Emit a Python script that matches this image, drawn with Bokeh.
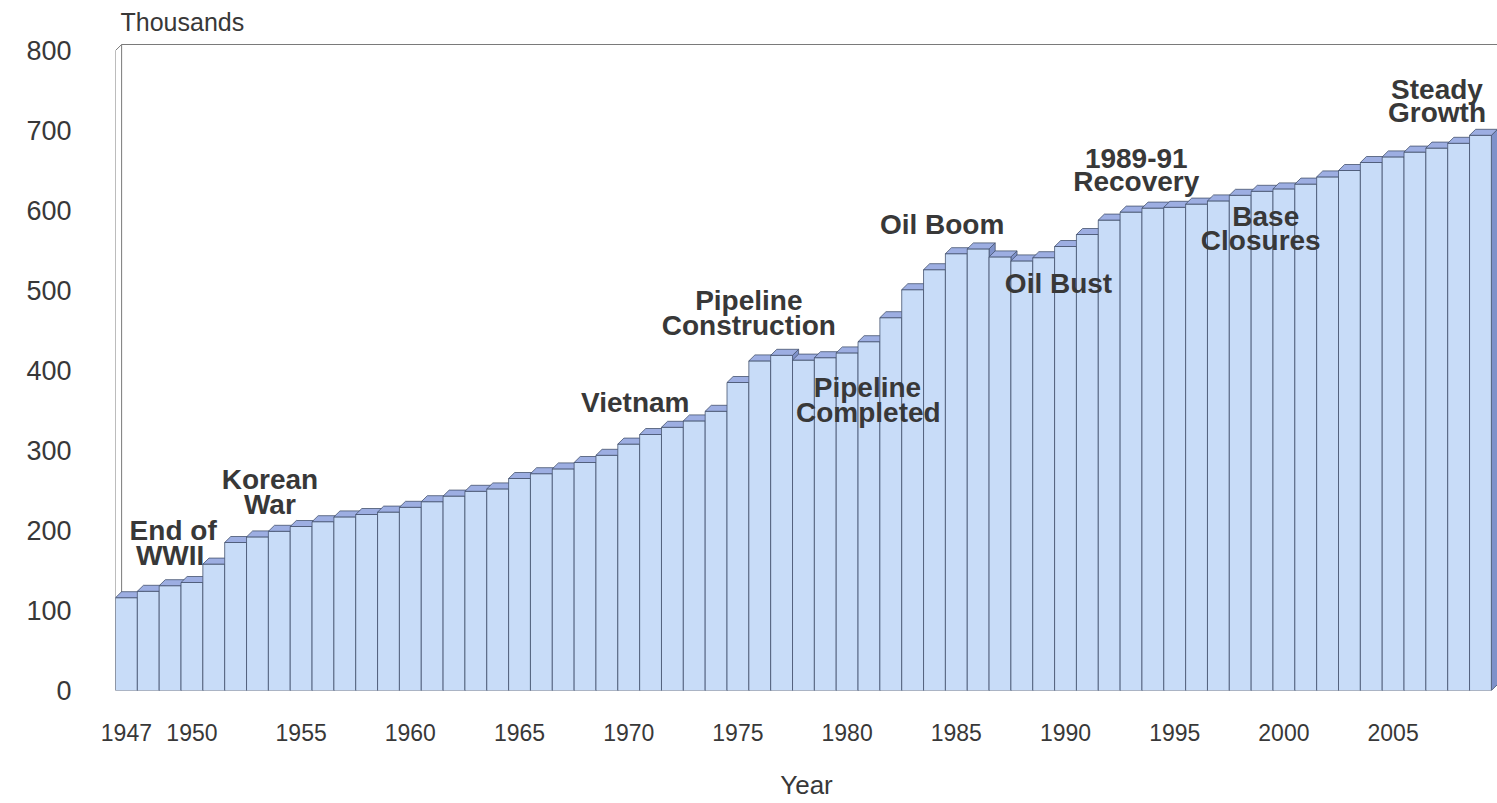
from bokeh.plotting import figure
from bokeh.models import Range1d, FixedTicker, ColumnDataSource
from bokeh.core.properties import value
from bokeh.embed import file_html
from bokeh.resources import INLINE

# ---------------- data ----------------
years = list(range(1947, 2010))
population_k = [116, 124, 131, 135, 158, 185, 192, 199, 205, 211,
                217, 220, 223, 229, 236, 243, 249, 252, 265, 271,
                277, 285, 294, 308, 320, 329, 337, 349, 385, 412,
                419, 413, 416, 422, 436, 466, 501, 526, 546, 552,
                542, 537, 541, 555, 570, 588, 598, 603, 604, 608,
                612, 619, 624, 627, 633, 642, 650, 660, 667, 673,
                678, 684, 694]
tick_years = [1947, 1950, 1955, 1960, 1965, 1970, 1975, 1980, 1985,
              1990, 1995, 2000, 2005]
y_ticks = [0, 100, 200, 300, 400, 500, 600, 700, 800]
event_labels = ["End of", "WWII", "Korean", "War", "Vietnam", "Pipeline",
                "Construction", "Pipeline", "Completed", "Oil Boom",
                "Oil Bust", "1989-91", "Recovery", "Base", "Closures",
                "Steady", "Growth"]

# ---------------- layout / style ----------------
event_x = [1949.14, 1949.0, 1953.57, 1953.57, 1970.30, 1975.50, 1975.50,
           1980.93, 1980.97, 1984.35, 1989.68, 1993.24, 1993.24, 1999.17,
           1998.94, 2007.01, 2007.01]
event_y = [200, 168.75, 263.75, 232.5, 360, 487.5, 456.25, 378.75, 347.5,
           582.5, 508.75, 665, 636.25, 592.5, 562.5, 751.25, 722.5]

DX, DY = 0.28, 7.5          # oblique depth of the 3-D bars
HALF = 0.5
FRONT, TOP, SIDE = "#C8DCF8", "#9DAEE2", "#7F92CA"
EDGE = "#45536F"
TXT = "#383838"
FONT = value("Liberation Sans")

x0r, x1r = years[0] - HALF, years[-1] + HALF + 0.28
p = figure(frame_width=1382, frame_height=650,
           x_range=Range1d(x0r, x1r), y_range=Range1d(0, 812.5),
           output_backend="svg", toolbar_location=None,
           min_border_left=115, min_border_right=0,
           min_border_top=40, min_border_bottom=110)
p.grid.visible = False
p.outline_line_color = None
p.background_fill_color = "white"
p.border_fill_color = "white"

p.title.text = "Thousands"
p.title.align = "left"
p.title.offset = 5
p.title.standoff = 9
p.title.text_font = "Liberation Sans"
p.title.text_font_style = "normal"
p.title.text_font_size = "25px"
p.title.text_color = TXT

# walls
top_val = y_ticks[-1]
p.patch([x0r, x0r + DX, x0r + DX, x0r], [0, DY, top_val + DY, top_val],
        fill_color="white", line_color="#7A7A7A", line_width=1)
p.line([x0r + DX, x1r], [top_val + DY, top_val + DY], line_color="#7A7A7A", line_width=1)

# 3-D bars: side, front, top for each bar, in order
xs, ys, cols = [], [], []
for yr, v in zip(years, population_k):
    a, b = yr - HALF, yr + HALF
    xs.append([b, b + DX, b + DX, b]); ys.append([0, DY, v + DY, v]); cols.append(SIDE)
    xs.append([a, b, b, a]); ys.append([0, 0, v, v]); cols.append(FRONT)
    xs.append([a, b, b + DX, a + DX]); ys.append([v, v, v + DY, v + DY]); cols.append(TOP)
src = ColumnDataSource(dict(xs=xs, ys=ys, c=cols))
p.patches("xs", "ys", source=src, fill_color="c", line_color=EDGE, line_width=0.8)

# event annotations
ann = ColumnDataSource(dict(x=event_x, y=event_y, t=event_labels))
p.text("x", "y", text="t", source=ann, text_font=FONT, text_font_style="bold",
       text_font_size="28px", text_color=TXT, text_align="center",
       text_baseline="middle")

# axes
for ax in (p.xaxis[0], p.yaxis[0]):
    ax.axis_line_color = None
    ax.major_tick_line_color = None
    ax.minor_tick_line_color = None
    ax.major_tick_out = 0
    ax.major_tick_in = 0
    ax.major_label_text_font = "Liberation Sans"
    ax.major_label_text_color = TXT
p.xaxis[0].ticker = FixedTicker(ticks=tick_years)
p.xaxis[0].major_label_text_font_size = "23px"
p.xaxis[0].major_label_standoff = 33
p.xaxis[0].axis_label = "Year"
p.xaxis[0].axis_label_text_font = "Liberation Sans"
p.xaxis[0].axis_label_text_font_style = "normal"
p.xaxis[0].axis_label_text_font_size = "26px"
p.xaxis[0].axis_label_text_color = TXT
p.xaxis[0].axis_label_standoff = 26
p.yaxis[0].ticker = FixedTicker(ticks=y_ticks)
p.yaxis[0].major_label_text_font_size = "27px"
p.yaxis[0].major_label_standoff = 44

open("out.html", "w").write(file_html(p, INLINE))
